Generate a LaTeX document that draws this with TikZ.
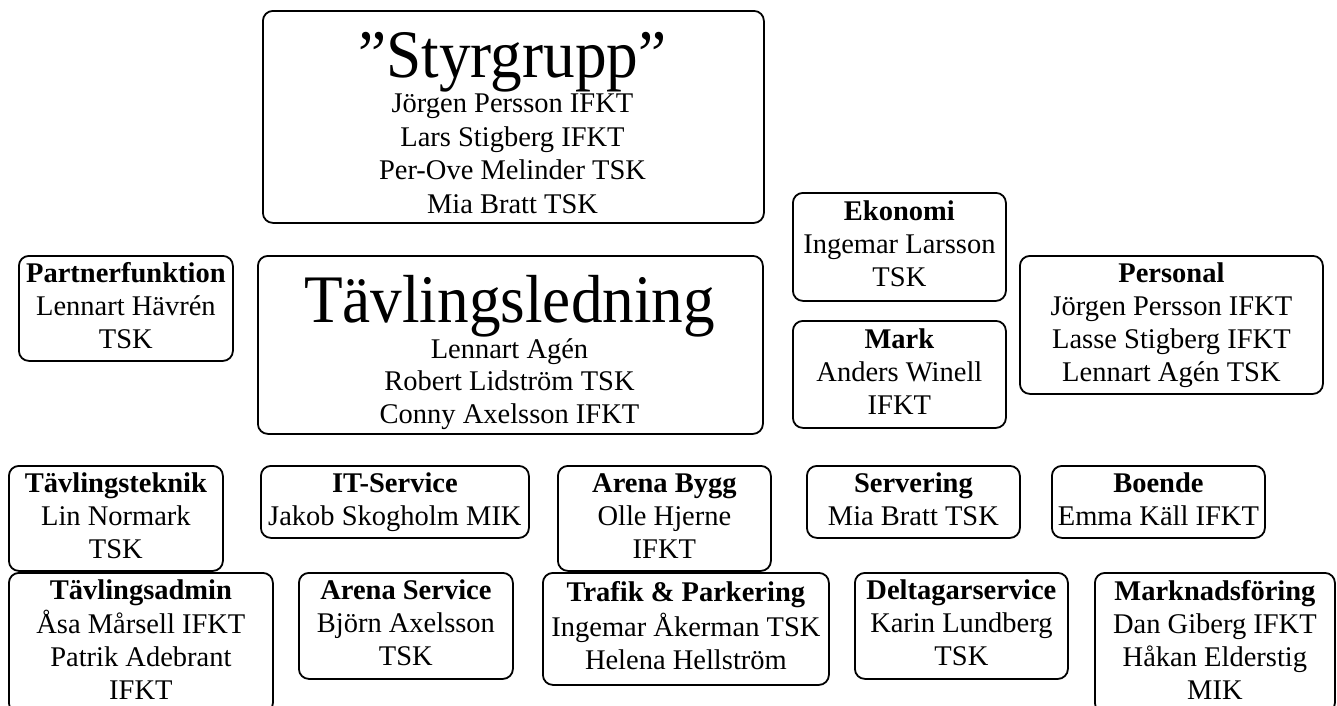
\documentclass[tikz,border=0pt]{standalone}
\usepackage{fontspec}
\setmainfont{Liberation Serif}
\usepackage{graphicx}
\newcommand\bodyfnt{\fontsize{28.5}{33}\selectfont}
\newcommand\titlefnt{\fontsize{68}{80}\selectfont}
\tikzset{
  box/.style={draw, line width=1.8pt, rounded corners=10pt, inner sep=0pt,
    align=center, anchor=north west, font=\bodyfnt},
  txt/.style={inner sep=0pt, align=center, font=\bodyfnt},
  ttl/.style={inner sep=0pt, anchor=base, font=\titlefnt},
}
\begin{document}
\begin{tikzpicture}[x=1pt, y=-1pt]
\useasboundingbox (0,0) rectangle (1337,705);
% Styrgrupp
\node[box, minimum width=501pt, minimum height=212pt] (styr) at (262,10) {};
\node[ttl] (styrT) at (512.5,77) {\scalebox{0.93}[1]{”Styrgrupp”}};
\node[txt, anchor=north, font=\fontsize{28.5}{33.5}\selectfont] (styrB) at (512.5,89)
  {\strut Jörgen Persson IFKT\\Lars Stigberg IFKT\\Per-Ove Melinder TSK\\Mia Bratt TSK\strut};
% Tävlingsledning
\node[box, minimum width=505pt, minimum height=178pt] (tl) at (257,255) {};
\node[ttl] (tlT) at (509.5,322) {\scalebox{0.93}[1]{Tävlingsledning}};
\node[txt, anchor=north, font=\fontsize{28.5}{32.5}\selectfont] (tlB) at (509.5,335.5)
  {\strut Lennart Agén\\Robert Lidström TSK\\Conny Axelsson IFKT\strut};
% side boxes
\node[box, minimum width=214pt, minimum height=105pt] (partner) at (18,255)
  {\strut\textbf{Partnerfunktion}\\Lennart Hävrén\\TSK\strut};
\node[box, minimum width=213pt, minimum height=108pt] (ekonomi) at (792,192)
  {\strut\textbf{Ekonomi}\\Ingemar Larsson\\TSK\strut};
\node[box, minimum width=213pt, minimum height=107pt] (mark) at (792,320)
  {\strut\textbf{Mark}\\Anders Winell\\IFKT\strut};
\node[box, minimum width=303pt, minimum height=138pt] (personal) at (1019,255)
  {\strut\textbf{Personal}\\Jörgen Persson IFKT\\Lasse Stigberg IFKT\\Lennart Agén TSK\strut};
% row 1
\node[box, minimum width=214pt, minimum height=105pt] (teknik) at (8,465)
  {\strut\textbf{Tävlingsteknik}\\Lin Normark\\TSK\strut};
\node[box, minimum width=268pt, minimum height=72pt] (it) at (260,465)
  {\strut\textbf{IT-Service}\\Jakob Skogholm MIK\strut};
\node[box, minimum width=213pt, minimum height=105pt] (bygg) at (557,465)
  {\strut\textbf{Arena Bygg}\\Olle Hjerne\\IFKT\strut};
\node[box, minimum width=213pt, minimum height=72pt] (servering) at (806,465)
  {\strut\textbf{Servering}\\Mia Bratt TSK\strut};
\node[box, minimum width=213pt, minimum height=72pt] (boende) at (1051,465)
  {\strut\textbf{Boende}\\Emma Käll IFKT\strut};
% row 2
\node[box, minimum width=264pt, minimum height=140pt] (admin) at (8,572)
  {\strut\textbf{Tävlingsadmin}\\Åsa Mårsell IFKT\\Patrik Adebrant\\IFKT\strut};
\node[box, minimum width=214pt, minimum height=106pt] (aserv) at (298,572)
  {\strut\textbf{Arena Service}\\Björn Axelsson\\TSK\strut};
\node[box, minimum width=286pt, minimum height=112pt] (trafik) at (542,572)
  {\strut\textbf{Trafik \& Parkering}\\Ingemar Åkerman TSK\\Helena Hellström\strut};
\node[box, minimum width=213pt, minimum height=106pt] (deltagar) at (854,572)
  {\strut\textbf{Deltagarservice}\\Karin Lundberg\\TSK\strut};
\node[box, minimum width=240pt, minimum height=140pt] (marknad) at (1094,572)
  {\strut\textbf{Marknadsföring}\\Dan Giberg IFKT\\Håkan Elderstig\\MIK\strut};
\end{tikzpicture}
\end{document}
